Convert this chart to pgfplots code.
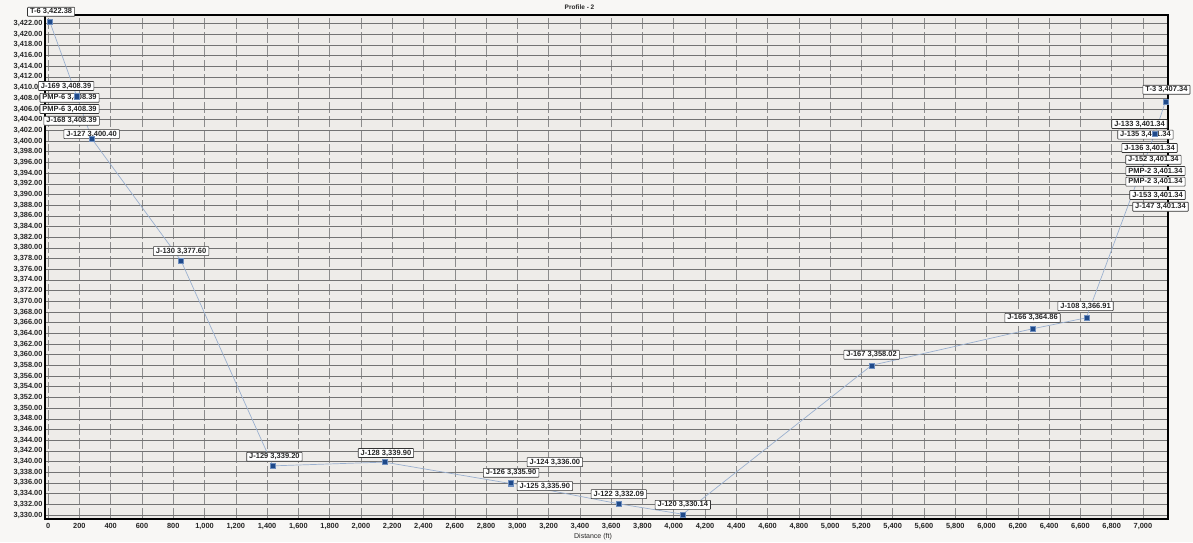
\documentclass[border=0pt]{standalone}
\usepackage{fontspec}
\setmainfont{Liberation Sans}
\usepackage{pgfplots}
\pgfplotsset{compat=1.18}
\usepackage{pgfplotstable}

\definecolor{plotbg}{HTML}{EEECE9}
\definecolor{pagebg}{HTML}{F8F7F5}
\definecolor{linec}{HTML}{9AB0CF}
\definecolor{markc}{HTML}{1F4A8A}
\definecolor{markd}{HTML}{6F8FBF}

\tikzset{lbl/.style={draw=black!80, fill=white, font=\bfseries\fontsize{7.5}{8.5}\selectfont, text=black!85, inner xsep=2.5pt, inner ysep=1.3pt, line width=0.6pt, rounded corners=0.6pt}}

\pgfplotstableread{
x y
10 3422.38
183 3408.39
183 3408.39
183 3408.39
183 3408.39
280 3400.40
850 3377.60
1438 3339.20
2150 3339.90
2955 3335.90
2955 3335.90
2958 3336.00
3649 3332.09
4058 3330.14
5265 3358.02
6294 3364.86
6638 3366.91
7075 3401.34
7075 3401.34
7075 3401.34
7075 3401.34
7075 3401.34
7075 3401.34
7075 3401.34
7075 3401.34
7143 3407.34
}\profiledata

\begin{document}
\begin{tikzpicture}
\fill[pagebg] (-45pt,-23pt) rectangle (1148pt,519pt);
\path[use as bounding box] (-45pt,-23pt) rectangle (1148pt,519pt);
\begin{axis}[
  at={(0pt,0pt)}, anchor=south west,
  scale only axis, width=1123pt, height=504pt,
  xmin=-20, xmax=7160, ymin=3329.25, ymax=3423.6,
  xtick={0,200,...,7000},
  ytick={3330,3332,...,3422},
  grid=major,
  x grid style={black!45, line width=0.5pt, dash pattern=on 11pt off 3pt},
  y grid style={black!55, line width=0.6pt},
  axis line style={black, line width=1.3pt},
  tick style={draw=none},
  axis background/.style={fill=plotbg},
  ticklabel style={font=\bfseries\fontsize{7.4}{8}\selectfont, text=black!85},
  /pgf/number format/assume math mode=true,
  /pgf/number format/1000 sep={,},
  yticklabel style={/pgf/number format/fixed, /pgf/number format/fixed zerofill, /pgf/number format/precision=2, xshift=1pt},
  xticklabel style={/pgf/number format/fixed, yshift=-1pt},
  clip=false,
]
\addplot[color=linec, line width=0.7pt, mark=square*, mark size=2.5pt,
  mark options={fill=markc, draw=markd, line width=0.5pt}] table[x=x,y=y] {\profiledata};

\node[lbl] at (axis cs:19,3424.2) {T-6 3,422.38};
\node[lbl] at (axis cs:115,3410.3) {J-169 3,408.39};
\node[lbl] at (axis cs:137,3408.1) {PMP-6 3,408.39};
\node[lbl] at (axis cs:137,3406.0) {PMP-6 3,408.39};
\node[lbl] at (axis cs:150,3403.8) {J-168 3,408.39};
\node[lbl] at (axis cs:278,3401.3) {J-127 3,400.40};
\node[lbl] at (axis cs:850,3379.4) {J-130 3,377.60};
\node[lbl] at (axis cs:1447,3340.9) {J-129 3,339.20};
\node[lbl] at (axis cs:2160,3341.6) {J-128 3,339.90};
\node[lbl] at (axis cs:3240,3339.9) {J-124 3,336.00};
\node[lbl] at (axis cs:2960,3337.9) {J-126 3,335.90};
\node[lbl] at (axis cs:3176,3335.4) {J-125 3,335.90};
\node[lbl] at (axis cs:3649,3333.9) {J-122 3,332.09};
\node[lbl] at (axis cs:4058,3331.9) {J-120 3,330.14};
\node[lbl] at (axis cs:5265,3360.0) {J-167 3,358.02};
\node[lbl] at (axis cs:6294,3366.9) {J-166 3,364.86};
\node[lbl] at (axis cs:6633,3369.1) {J-108 3,366.91};
\node[lbl] at (axis cs:7150,3409.6) {T-3 3,407.34};
\node[lbl] at (axis cs:6978,3403.2) {J-133 3,401.34};
\node[lbl] at (axis cs:7016,3401.2) {J-135 3,401.34};
\node[lbl] at (axis cs:7042,3398.7) {J-136 3,401.34};
\node[lbl] at (axis cs:7067,3396.5) {J-152 3,401.34};
\node[lbl] at (axis cs:7080,3394.4) {PMP-2 3,401.34};
\node[lbl] at (axis cs:7080,3392.4) {PMP-2 3,401.34};
\node[lbl] at (axis cs:7093,3389.9) {J-153 3,401.34};
\node[lbl] at (axis cs:7112,3387.7) {J-147 3,401.34};

\node[font=\bfseries\fontsize{6.5}{7}\selectfont, text=black!85] at (axis description cs:0.476,1.016) {Profile - 2};
\node[font=\fontsize{7}{8}\selectfont, text=black!85] at (axis description cs:0.488,-0.036) {Distance (ft)};
\end{axis}
\end{tikzpicture}
\end{document}
